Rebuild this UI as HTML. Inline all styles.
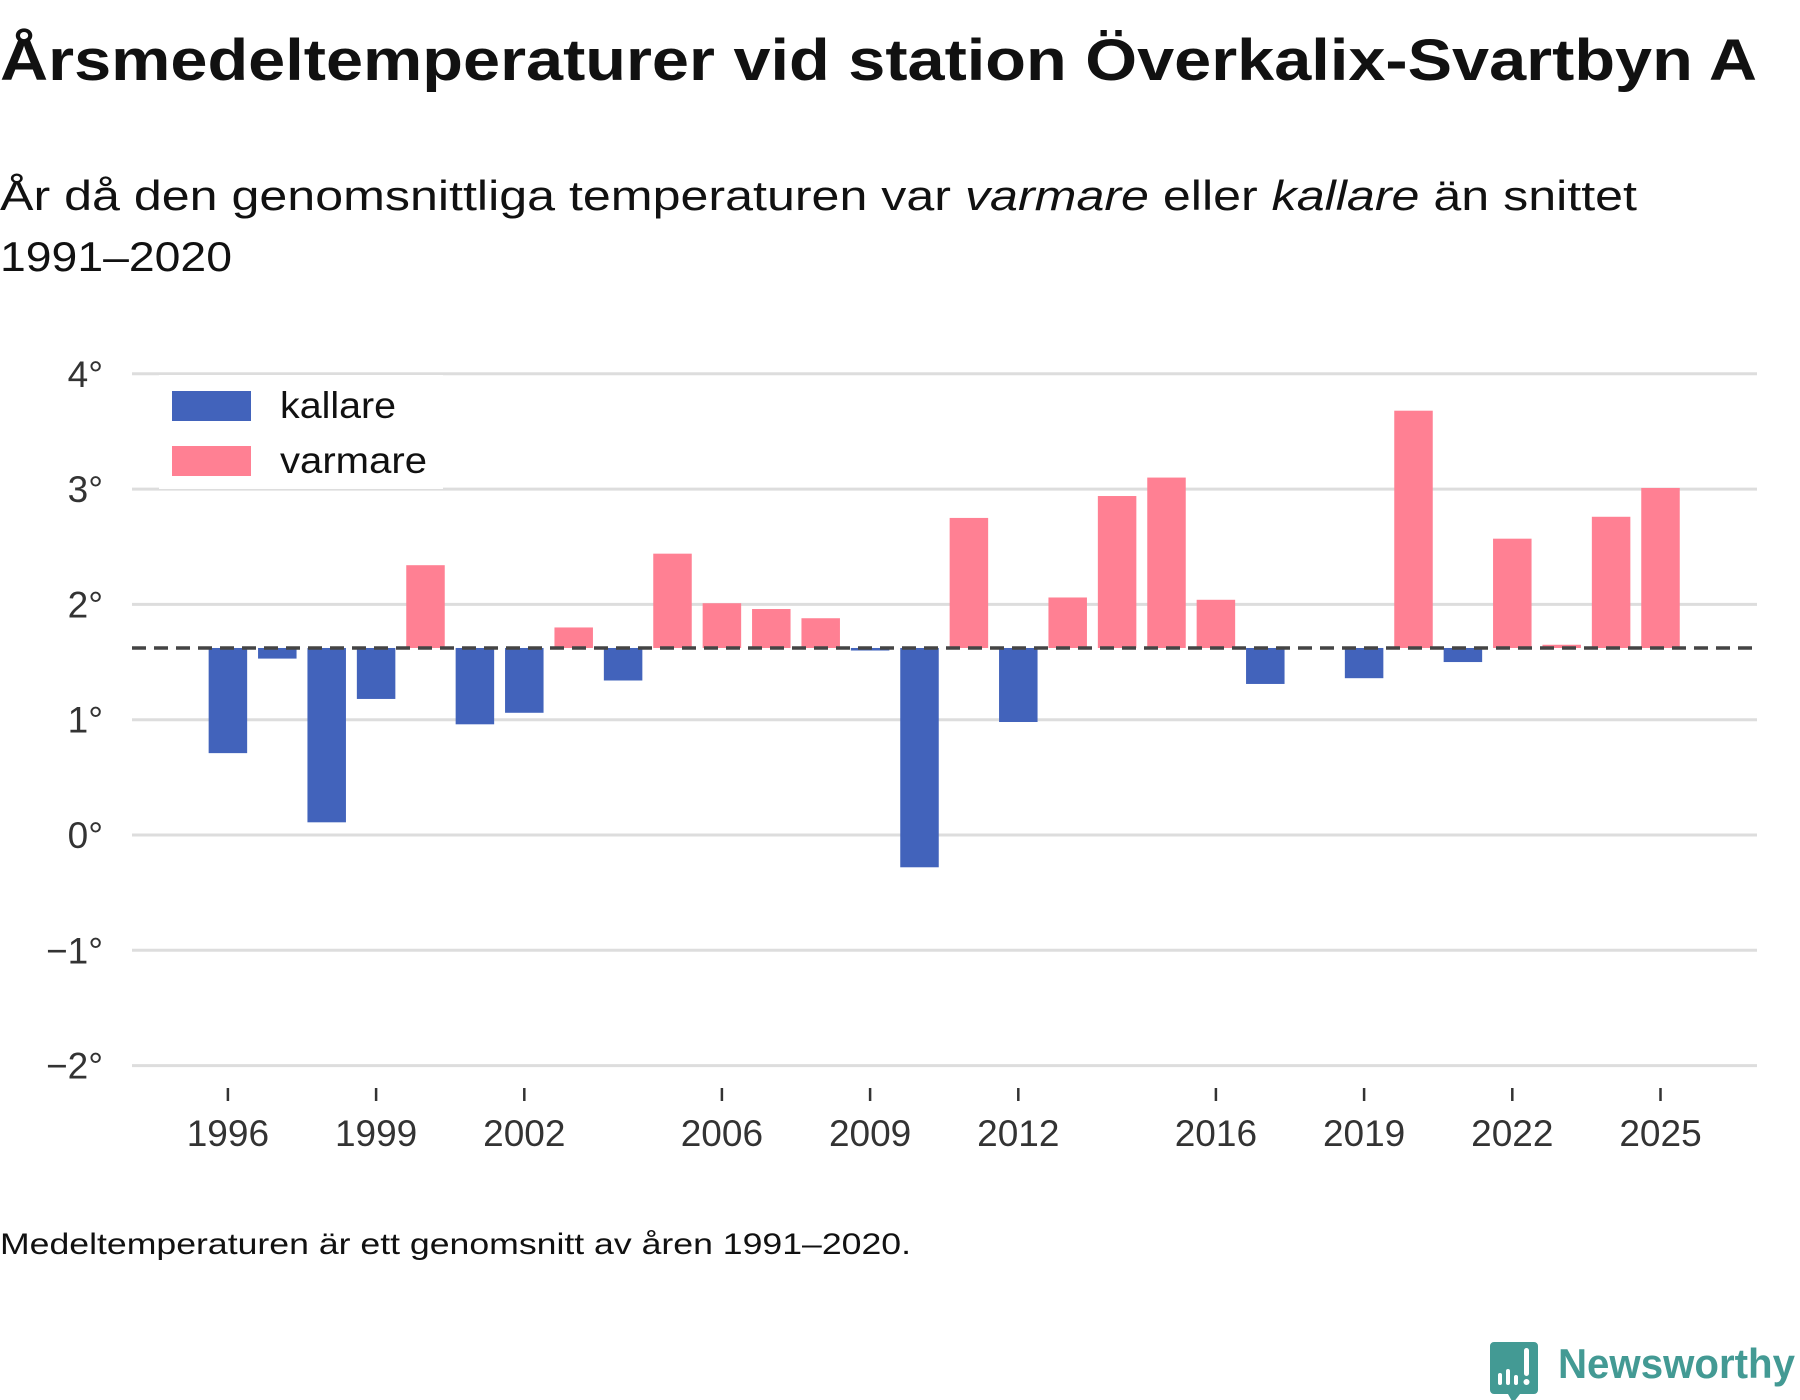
<!DOCTYPE html>
<html><head><meta charset="utf-8"><style>
html,body{margin:0;padding:0;background:#fff;}
svg{display:block;font-family:"Liberation Sans",sans-serif;}
</style></head><body>
<svg id="chart" width="1800" height="1400" viewBox="0 0 1800 1400" xmlns="http://www.w3.org/2000/svg">
<text x="0" y="80" font-size="58" font-weight="bold" fill="#111" textLength="1757" lengthAdjust="spacingAndGlyphs">Årsmedeltemperaturer vid station Överkalix-Svartbyn A</text>
<text x="0" y="210" font-size="42" fill="#111" textLength="1637" lengthAdjust="spacingAndGlyphs">År då den genomsnittliga temperaturen var <tspan font-style="italic">varmare</tspan> eller <tspan font-style="italic">kallare</tspan> än snittet</text>
<text x="0" y="271" font-size="42" fill="#111" textLength="232" lengthAdjust="spacingAndGlyphs">1991–2020</text>
<g id="grid"></g>
<g id="yticks"></g>
<g id="xticks"></g>
<g id="bars"></g>
<g id="meanline"></g>
<g>
<rect x="159" y="375" width="284" height="114" fill="#fff" opacity="0.95"/>
<rect x="172" y="391" width="79" height="30" fill="#4263bb"/>
<text x="280" y="418" font-size="37" fill="#111" textLength="116" lengthAdjust="spacingAndGlyphs">kallare</text>
<rect x="172" y="446" width="79" height="30" fill="#ff8093"/>
<text x="280" y="473" font-size="37" fill="#111" textLength="147" lengthAdjust="spacingAndGlyphs">varmare</text>
</g>
<text x="0" y="1254" font-size="30" fill="#111" textLength="911" lengthAdjust="spacingAndGlyphs">Medeltemperaturen är ett genomsnitt av åren 1991–2020.</text>
<g>
<path d="M1494 1342 h40 a4 4 0 0 1 4 4 v44 a4 4 0 0 1 -4 4 h-14 l-7 9 l-5 -9 h-14 a4 4 0 0 1 -4 -4 v-44 a4 4 0 0 1 4 -4z" fill="#439a94"/>
<rect x="1498" y="1373" width="4" height="12" rx="2" fill="#fff"/>
<rect x="1506" y="1369" width="4" height="16" rx="2" fill="#fff"/>
<rect x="1514" y="1375" width="4" height="10" rx="2" fill="#fff"/>
<rect x="1524" y="1348" width="5" height="28" rx="2.5" fill="#fff"/>
<circle cx="1526.5" cy="1382" r="3" fill="#fff"/>
<text x="1558" y="1378" font-size="42" font-weight="bold" fill="#439a94" textLength="237" lengthAdjust="spacingAndGlyphs">Newsworthy</text>
</g>
</svg>
<script>
const years=[1996,1997,1998,1999,2000,2001,2002,2003,2004,2005,2006,2007,2008,2009,2010,2011,2012,2013,2014,2015,2016,2017,2019,2020,2021,2022,2023,2024,2025];
const temps=[0.71,1.53,0.11,1.18,2.34,0.96,1.06,1.80,1.34,2.44,2.01,1.96,1.88,1.60,-0.28,2.75,0.98,2.06,2.94,3.10,2.04,1.31,1.36,3.68,1.50,2.57,1.65,2.76,3.01];
const meanTemp=1.622;
const yTicks=[-2,-1,0,1,2,3,4];
const yTickLabels=["−2°","−1°","0°","1°","2°","3°","4°"];
const xTicks=[1996,1999,2002,2006,2009,2012,2016,2019,2022,2025];
const NS="http://www.w3.org/2000/svg";
function X(yr){return 227.9+(yr-1996)*49.4;}
function Y(v){return 835-v*115.3;}
function mk(tag,attrs,parent){const e=document.createElementNS(NS,tag);for(const k in attrs)e.setAttribute(k,attrs[k]);parent.appendChild(e);return e;}
const grid=document.getElementById('grid'),yt=document.getElementById('yticks'),xt=document.getElementById('xticks'),bars=document.getElementById('bars'),ml=document.getElementById('meanline');
yTicks.forEach((t,i)=>{
 const l=mk('line',{x1:132,x2:1757,y1:Y(t),y2:Y(t),stroke:'#dddddd','stroke-width':3},grid);
 
 
 const tx=mk('text',{x:103,y:Y(t)+13,'font-size':37,'text-anchor':'end',fill:'#333'},yt);
 tx.textContent=yTickLabels[i];
 
 
});
xTicks.forEach(t=>{
 const l=mk('line',{x1:X(t),x2:X(t),y1:1088,y2:1101,stroke:'#333','stroke-width':2.5},xt);
 
 
 const tx=mk('text',{x:X(t),y:1146,'font-size':37,'text-anchor':'middle',fill:'#333'},xt);
 tx.textContent=String(t);
 
 
});
const bw=38.5;
years.forEach((yr,i)=>{
 const v=temps[i];const y0=Y(meanTemp),y1=Y(v);
 const r=mk('rect',{x:X(yr)-bw/2,y:Math.min(y0,y1),width:bw,height:Math.max(1.5,Math.abs(y1-y0)),fill:v>=meanTemp?'#ff8093':'#4263bb'},bars);
 
 
});
const d=mk('line',{x1:132,x2:1757,y1:Y(meanTemp),y2:Y(meanTemp),stroke:'#444','stroke-width':3.5,'stroke-dasharray':'14 8'},ml);


</script>
</body></html>
